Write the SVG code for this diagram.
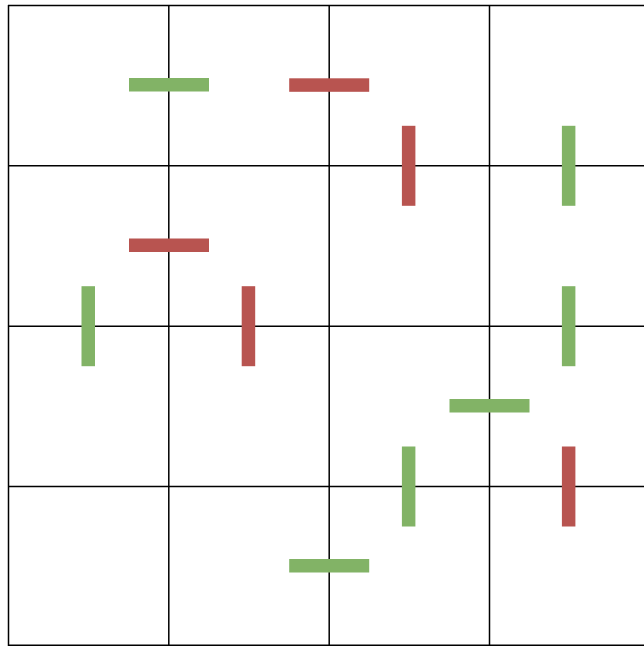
<svg xmlns="http://www.w3.org/2000/svg" width="644" height="646" viewBox="0 0 644 646">
<style>
.g{stroke:#000;stroke-width:1.5;fill:none}
.gr{fill:#82b366}
.rd{fill:#b85450}
</style>
<rect width="644" height="646" fill="#fff"/>
<g id="grid" class="g">
<path d="M8.5 5V646M168.8 5V646M329.2 5V646M489.5 5V646"/>
<path d="M8 5.5H644M8 165.8H644M8 326.2H644M8 486.5H644M8 645.3H644"/>
</g>
<g id="bars">
<rect id="h1" class="gr" x="129" y="78" width="80" height="13.5"/>
<rect id="h2" class="rd" x="289.2" y="78.3" width="80" height="13.5"/>
<rect id="h3" class="rd" x="129" y="238.5" width="80" height="13.5"/>
<rect id="h4" class="gr" x="449.5" y="399" width="80" height="13.5"/>
<rect id="h5" class="gr" x="289.2" y="559" width="80" height="13.5"/>
<rect id="v1" class="rd" x="401.9" y="125.8" width="13.5" height="80"/>
<rect id="v2" class="gr" x="561.9" y="125.8" width="13.5" height="80"/>
<rect id="v3" class="gr" x="81.5" y="286.2" width="13.5" height="80"/>
<rect id="v4" class="rd" x="241.7" y="286.2" width="13.5" height="80"/>
<rect id="v5" class="gr" x="561.9" y="286.2" width="13.5" height="80"/>
<rect id="v6" class="gr" x="401.9" y="446.5" width="13.5" height="80"/>
<rect id="v7" class="rd" x="561.9" y="446.5" width="13.5" height="80"/>
</g>
</svg>
